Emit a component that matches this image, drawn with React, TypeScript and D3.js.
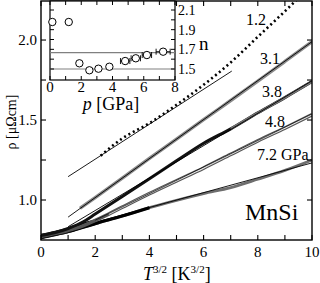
import React from "react";
import * as d3 from "d3";

type Pt = [number, number];

const pressures = ["1.2", "3.1", "3.8", "4.8", "7.2 GPa"];

// ---- main panel data: x = T^{3/2} [K^{3/2}], y = rho [μΩcm]
const data12: Pt[] = [[2.2, 1.277], [3, 1.385], [4, 1.48], [5, 1.595], [6, 1.72], [7, 1.86], [8, 2.02], [9, 2.18], [9.6, 2.28]];
const fit12: Pt[] = [[1, 1.146], [7.04, 1.806]];
const data31: Pt[] = [[1.44, 0.948], [2, 1.015], [3, 1.137], [4, 1.26], [5, 1.38], [6, 1.502], [7, 1.622], [8, 1.743], [9, 1.866], [10, 1.99]];
const fit31: Pt[] = [[1, 0.893], [10, 1.99]];
const data38: Pt[] = [[0, 0.778], [0.5, 0.795], [1, 0.822], [1.56, 0.864], [2, 0.912], [3, 1.022], [4, 1.133], [5, 1.245], [6, 1.355], [7, 1.445], [8, 1.545], [9, 1.64], [10, 1.74]];
const fit38: Pt[] = [[1, 0.833], [10, 1.745]];
const data48: Pt[] = [[0, 0.773], [0.5, 0.79], [1, 0.81], [1.5, 0.835], [1.8, 0.857], [2.5, 0.912], [3, 0.955], [4, 1.04], [5, 1.12], [6, 1.2], [7, 1.285], [8, 1.37], [9, 1.45], [10, 1.533]];
const fit48: Pt[] = [[2, 0.874], [10, 1.538]];
const data72: Pt[] = [[0, 0.768], [0.5, 0.785], [1, 0.803], [1.56, 0.83], [2, 0.852], [3, 0.9], [4, 0.952], [5, 0.998], [6, 1.04], [7, 1.078], [8, 1.13], [9, 1.185], [10, 1.25]];
const fit72: Pt[] = [[2, 0.86], [10, 1.232]];
const lowBand: Pt[] = [[0, 0.772], [0.5, 0.79], [1, 0.81], [1.56, 0.842], [2, 0.862]];

const xTicksMain = [0, 2, 4, 6, 8, 10];
const xMinorMain = [1, 3, 5, 7, 9];
const yTicksMain = [1.0, 1.5, 2.0];
const yMinorMain = [1.25, 1.75];

// ---- inset data: exponent n vs pressure p [GPa]
const pressureP = [0.15, 1.2, 1.88, 2.52, 3.1, 3.8, 4.81, 5.49, 6.2, 7.24];
const exponentN = [1.978, 1.978, 1.558, 1.487, 1.503, 1.523, 1.581, 1.609, 1.642, 1.676];
const pErr = [0, 0, 0, 0, 0, 0, 0.3, 0.3, 0.3, 0.45];
const refN = [5 / 3, 1.5];
const insetXTicks = [0, 2, 4, 6, 8];
const insetXMinor = [1, 3, 5, 7];
const insetYTicks = [2.1, 1.9, 1.7, 1.5];
const insetYMinor = [2.0, 1.8, 1.6];

const FONT = "'Liberation Serif'";

function T(props: any) {
  const { children, ...rest } = props;
  return <text fontFamily="Liberation Serif" style={{ fontFamily: FONT }} {...rest}>{children}</text>;
}

export default function App() {
  const x = d3.scaleLinear().domain([0, 10]).range([41, 312]);
  const y = d3.scaleLinear().domain([0.75, 2.244]).range([240, 1]);
  const line = d3.line<Pt>().x(d => x(d[0])).y(d => y(d[1])).curve(d3.curveMonotoneX);
  const straight = d3.line<Pt>().x(d => x(d[0])).y(d => y(d[1]));

  const ix = d3.scaleLinear().domain([0, 8]).range([50, 175]);
  const iy = d3.scaleLinear().domain([1.5, 2.1]).range([69, 10]);
  const iTop = 1, iBot = 80;

  return (
    <div style={{ fontFamily: FONT, position: "absolute", left: 0, top: 0, width: 320, height: 283 }}>
      <svg width={320} height={283} fontFamily="Liberation Serif" style={{ display: "block", background: "#fff" }}>
        <defs>
          <clipPath id="plotClip">
            <rect x={41} y={1} width={271} height={239} />
          </clipPath>
        </defs>
        <rect x={0} y={0} width={320} height={283} fill="#fff" />
        <g clipPath="url(#plotClip)" fill="none" strokeLinecap="butt">
          <path d={line(lowBand) || ""} stroke="#000" strokeWidth={5.5} />
          <path d={line(data72) || ""} stroke="#6e6e6e" strokeWidth={2.8} />
          <path d={line(data72.filter(d => d[0] <= 4.5)) || ""} stroke="#000" strokeWidth={3.2} />
          <path d={straight(fit72) || ""} stroke="#000" strokeWidth={0.9} />
          <path d={line(data48) || ""} stroke="#555" strokeWidth={3.6} />
          <path d={line(data48.filter(d => d[0] >= 2)) || ""} stroke="#e4e4e4" strokeWidth={1.4} />
          <path d={straight(fit48) || ""} stroke="#000" strokeWidth={0.7} />
          <path d={line(data38) || ""} stroke="#111" strokeWidth={3} />
          <path d={line(data38.filter(d => d[0] >= 6.5)) || ""} stroke="#777" strokeWidth={2.4} />
          <path d={straight(fit38) || ""} stroke="#000" strokeWidth={0.9} />
          <path d={line(data31) || ""} stroke="#8a8a8a" strokeWidth={3.4} />
          <path d={straight(fit31) || ""} stroke="#000" strokeWidth={0.9} />
          <path d={straight(fit12) || ""} stroke="#000" strokeWidth={0.9} />
          <path d={line(data12) || ""} stroke="#000" strokeWidth={2.6} strokeDasharray="2 3" />
        </g>

        <rect x={41} y={1} width={271} height={239} fill="none" stroke="#000" strokeWidth={1.4} />
        {xTicksMain.concat(xMinorMain).map(t => (
          <g key={"xt" + t}>
            <line x1={x(t)} x2={x(t)} y1={240} y2={235} stroke="#000" strokeWidth={1.1} />
            <line x1={x(t)} x2={x(t)} y1={1} y2={6} stroke="#000" strokeWidth={1.1} />
          </g>
        ))}
        {yTicksMain.concat(yMinorMain).map(v => (
          <g key={"yt" + v}>
            <line x1={41} x2={46} y1={y(v)} y2={y(v)} stroke="#000" strokeWidth={1.1} />
            <line x1={312} x2={307} y1={y(v)} y2={y(v)} stroke="#000" strokeWidth={1.1} />
          </g>
        ))}
        {xTicksMain.map(t => (
          <T key={"xl" + t} x={x(t)} y={257} fontSize={15} textAnchor="middle">{t}</T>
        ))}
        {yTicksMain.map(v => (
          <T key={"yl" + v} x={37} y={y(v) + 5} fontSize={15} textAnchor="end">{v.toFixed(1)}</T>
        ))}
        <T x={143} y={280} fontSize={18}>
          <tspan fontStyle="italic">T</tspan>
          <tspan fontSize={11} dy={-7}>3/2</tspan>
          <tspan dy={7}> [K</tspan>
          <tspan fontSize={11} dy={-7}>3/2</tspan>
          <tspan dy={7}>]</tspan>
        </T>
        <T transform="translate(16,122) rotate(-90)" fontSize={14} textAnchor="middle">ρ [μΩcm]</T>

        <T x={246} y={25} fontSize={16}>{pressures[0]}</T>
        <T x={260} y={63.5} fontSize={16}>{pressures[1]}</T>
        <T x={262} y={97} fontSize={16}>{pressures[2]}</T>
        <T x={265} y={127} fontSize={16}>{pressures[3]}</T>
        <T x={257} y={160} fontSize={16}>{pressures[4]}</T>
        <T x={245} y={220} fontSize={24}>MnSi</T>

        <rect x={50} y={iTop} width={125} height={iBot - iTop} fill="#fff" stroke="#000" strokeWidth={1.2} />
        {refN.map(v => (
          <line key={"ref" + v} x1={50} x2={175} y1={iy(v)} y2={iy(v)} stroke="#808080" strokeWidth={1.2} />
        ))}
        {insetXTicks.concat(insetXMinor).map(t => (
          <g key={"ixt" + t}>
            <line x1={ix(t)} x2={ix(t)} y1={iTop} y2={iTop + 4} stroke="#000" strokeWidth={1} />
            <line x1={ix(t)} x2={ix(t)} y1={iBot} y2={iBot - 4} stroke="#000" strokeWidth={1} />
          </g>
        ))}
        {insetYTicks.concat(insetYMinor).map(v => (
          <g key={"iyt" + v}>
            <line x1={50} x2={54} y1={iy(v)} y2={iy(v)} stroke="#000" strokeWidth={1} />
            <line x1={175} x2={171} y1={iy(v)} y2={iy(v)} stroke="#000" strokeWidth={1} />
          </g>
        ))}
        {pressureP.map((p, i) => (
          pErr[i] > 0 ? (
            <g key={"err" + i}>
              <line x1={ix(p - pErr[i])} x2={ix(p + pErr[i])} y1={iy(exponentN[i])} y2={iy(exponentN[i])} stroke="#000" strokeWidth={0.9} />
              <line x1={ix(p + pErr[i])} x2={ix(p + pErr[i])} y1={iy(exponentN[i]) - 3} y2={iy(exponentN[i]) + 3} stroke="#000" strokeWidth={0.9} />
              <line x1={ix(p - pErr[i])} x2={ix(p - pErr[i])} y1={iy(exponentN[i]) - 3} y2={iy(exponentN[i]) + 3} stroke="#000" strokeWidth={0.9} />
            </g>
          ) : null
        ))}
        {pressureP.map((p, i) => (
          <circle key={"pt" + i} cx={ix(p)} cy={iy(exponentN[i])} r={3.7} fill="#fff" stroke="#000" strokeWidth={1} />
        ))}
        {insetXTicks.map(t => (
          <T key={"ixl" + t} x={ix(t)} y={92} fontSize={15} textAnchor="middle">{t}</T>
        ))}
        {insetYTicks.map(v => (
          <T key={"iyl" + v} x={178} y={iy(v) + 5} fontSize={14}>{v.toFixed(1)}</T>
        ))}
        <T x={111} y={110} fontSize={18} textAnchor="middle">
          <tspan fontStyle="italic">p</tspan>
          <tspan> [GPa]</tspan>
        </T>
        <T x={199} y={50} fontSize={19}>n</T>
      </svg>
    </div>
  );
}
